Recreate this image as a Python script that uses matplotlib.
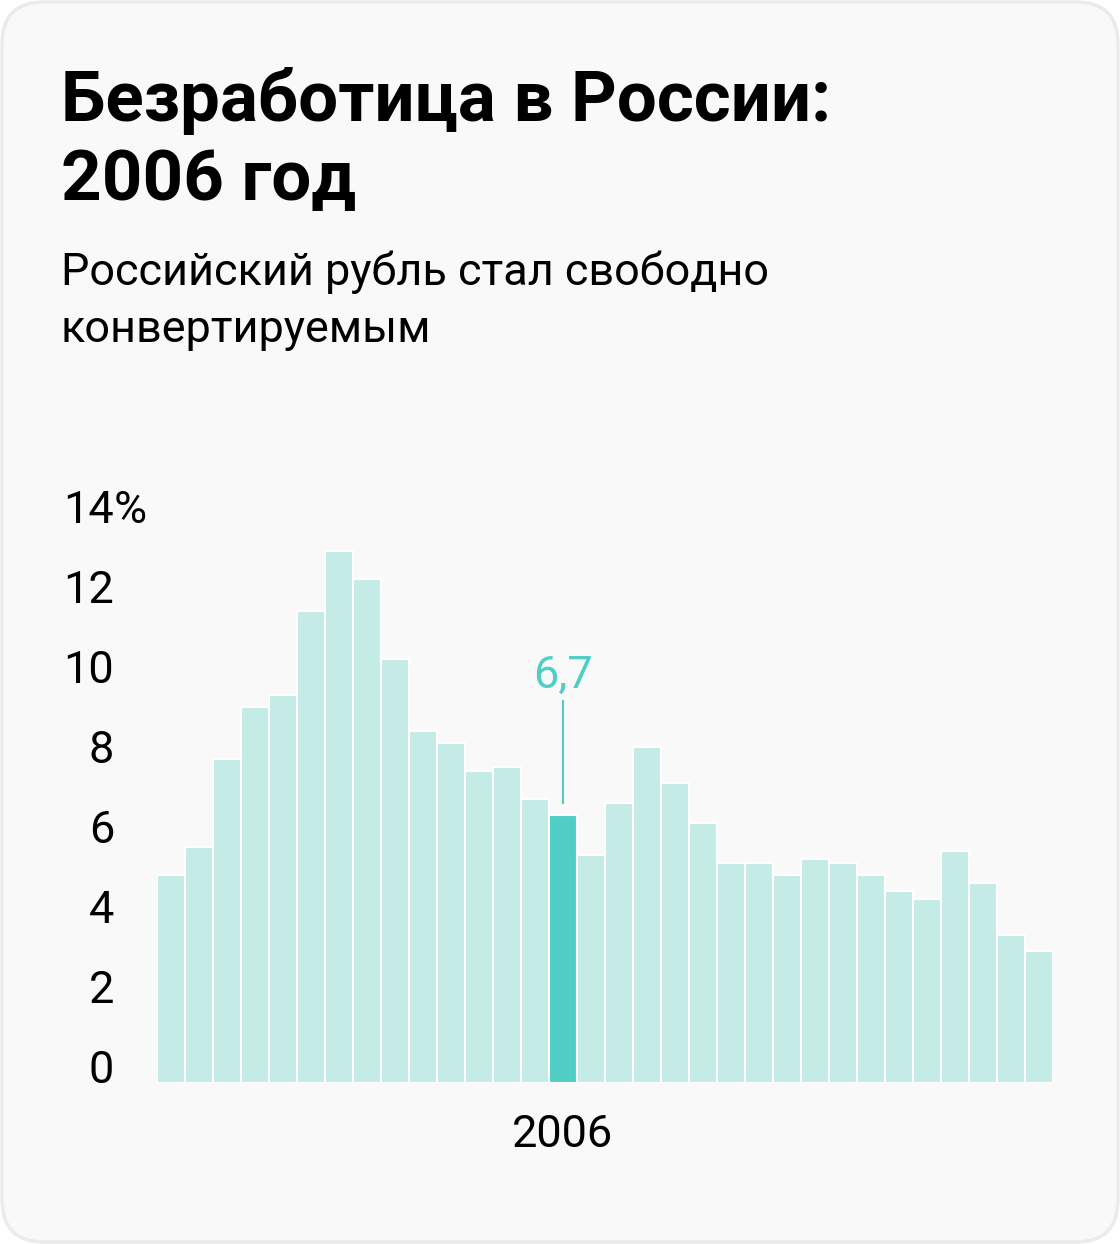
import matplotlib
matplotlib.use("Agg")
import matplotlib.pyplot as plt
from matplotlib.patches import FancyBboxPatch

plt.rcParams['font.family'] = ['Roboto', 'DejaVu Sans']

# Данные: безработица в России, %
anios = list(range(1992, 2024))
valores = [5.2, 5.9, 8.1, 9.4, 9.7, 11.8, 13.3, 12.6, 10.6, 8.8,
           8.5, 7.8, 7.9, 7.1, 6.7, 5.7, 7.0, 8.4, 7.5, 6.5,
           5.5, 5.5, 5.2, 5.6, 5.5, 5.2, 4.8, 4.6, 5.8, 5.0,
           3.7, 3.3]
anio_destacado = 2006
etiqueta_destacada = "6,7"
ticks_y = [0, 2, 4, 6, 8, 10, 12, 14]

titulo = "Безработица в России:\n2006 год"
subtitulo = ["Российский рубль стал свободно", "конвертируемым"]

color_claro = "#C5EBE7"
color_fuerte = "#50CDC4"

W, H = 1120, 1244
fig = plt.figure(figsize=(W / 100, H / 100), dpi=100)
fig.patch.set_facecolor("white")

# fondo con esquinas redondeadas (coordenadas en pixeles)
fondo = fig.add_axes([0, 0, 1, 1], zorder=-1)
fondo.set_xlim(0, W)
fondo.set_ylim(H, 0)
fondo.axis("off")
fondo.add_patch(FancyBboxPatch((2, 2), W - 4, H - 4,
                               boxstyle="round,pad=0,rounding_size=42",
                               facecolor="#F9F9F9", edgecolor="#EBEBEB", linewidth=2.5))

lineas = titulo.split("\n")
fondo.text(61, 121, lineas[0], fontsize=51, fontweight="bold", va="baseline", ha="left")
fondo.text(61, 200, lineas[1], fontsize=51, fontweight="bold", va="baseline", ha="left")
fondo.text(61, 285, subtitulo[0], fontsize=32.4, va="baseline", ha="left")
fondo.text(61, 342, subtitulo[1], fontsize=32.4, va="baseline", ha="left")

# grafico de barras
x0, x1 = 157, 1053
y0, y1 = 1083, 523
ax = fig.add_axes([x0 / W, (H - y0) / H, (x1 - x0) / W, (y0 - y1) / H])
ax.set_facecolor("none")

posiciones = list(range(len(anios)))
colores = [color_fuerte if a == anio_destacado else color_claro for a in anios]
ax.bar(posiciones, valores, width=1.0, color=colores, edgecolor="white", linewidth=1.5)

ax.set_xlim(-0.5, len(anios) - 0.5)
ax.set_ylim(0, 14)
for s in ax.spines.values():
    s.set_visible(False)
ax.set_yticks([])
idx = anios.index(anio_destacado)
ax.set_xticks([idx])
ax.set_xticklabels([str(anio_destacado)], fontsize=32.5)
ax.tick_params(axis="x", length=0, pad=22)

# etiquetas del eje y: numero alineado a la derecha, "%" solo en el ultimo
tr = ax.get_yaxis_transform()
xl = (114 - x0) / (x1 - x0)
for t in ticks_y:
    ax.text(xl, t, str(t), transform=tr, fontsize=32.5, ha="right", va="baseline", clip_on=False)
ax.text(xl, ticks_y[-1], "%", transform=tr, fontsize=32.5, ha="left", va="baseline", clip_on=False)

# anotacion del valor destacado
v = valores[idx]
ax.plot([idx, idx], [v + 0.3, v + 2.85], color=color_fuerte, linewidth=1.5, clip_on=False)
ax.text(idx, v + 3.18, etiqueta_destacada, color=color_fuerte, fontsize=32.5,
        ha="center", va="baseline", clip_on=False)

fig.savefig("out.png", dpi=100, facecolor=fig.get_facecolor())
